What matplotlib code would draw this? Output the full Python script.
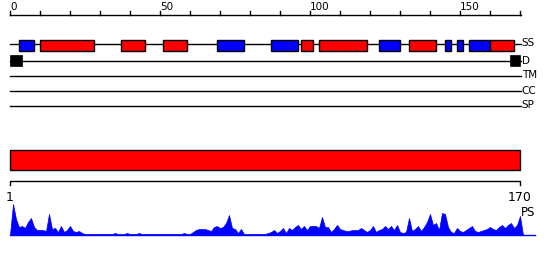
import matplotlib
matplotlib.use("Agg")
import matplotlib.pyplot as plt
from matplotlib.patches import Rectangle

# sequence length and secondary structure segments (residue start, end)
seq_len = 170
helix_segs = [(10, 28), (37, 45), (51, 59), (97, 101), (103, 119), (133, 142), (160, 168)]
strand_segs = [(3, 8), (69, 78), (87, 96), (123, 130), (145, 147), (149, 151), (153, 160)]
domain_marks = [(0, 4), (166.7, 170)]
track_names = ["SS", "D", "TM", "CC", "SP"]

# PS profile, one value per residue 0..170
ps_profile = [0, 31, 16, 8, 9, 7, 13, 17, 8, 5, 5, 5, 4, 21, 6, 7, 3, 9, 3, 5,
              9, 4, 3, 4, 2, 1, 1, 1, 1, 1, 1, 1, 1, 1, 1, 2, 1, 1, 1, 2,
              1, 1, 1, 2, 1, 1, 1, 1, 1, 1, 1, 1, 1, 1, 1, 1, 1, 1, 2, 1,
              1, 3, 5, 6, 6, 6, 5, 4, 8, 9, 7, 8, 12, 20, 7, 6, 2, 6, 1, 1,
              1, 1, 1, 1, 1, 1, 2, 3, 5, 2, 4, 7, 2, 7, 5, 8, 10, 6, 9, 5,
              9, 9, 9, 7, 18, 8, 8, 3, 6, 10, 6, 5, 4, 4, 5, 5, 5, 7, 5, 3,
              5, 9, 3, 5, 6, 9, 6, 9, 5, 10, 3, 2, 3, 17, 4, 6, 9, 4, 8, 13,
              21, 10, 12, 5, 22, 21, 8, 3, 2, 7, 4, 3, 5, 7, 9, 4, 3, 4, 5, 6,
              8, 6, 5, 8, 10, 7, 10, 12, 7, 10, 19]

fig = plt.figure(figsize=(5.5, 2.6), dpi=100)
ax = fig.add_axes([0, 0, 1, 1])
ax.set_xlim(-10 / 3, 180)
ax.set_ylim(260, 0)
ax.axis("off")

fs = 7.5
# top ruler
ax.plot([0, seq_len + 0.3], [15, 15], color="black", lw=1)
for t in range(0, seq_len + 1, 10):
    ax.plot([t, t], [15, 11], color="black", lw=1)
for t in [0, 50, 100, 150]:
    ax.text(t, 10, str(t), fontsize=fs, ha="left", va="baseline")

# feature tracks
track_y = [43.5, 60.5, 75.5, 90.5, 105.5]
for name, y in zip(track_names, track_y):
    ax.plot([0, seq_len + 0.3], [y, y], color="black", lw=1, zorder=1)
    ax.text(seq_len + 0.6, y, name, fontsize=fs, ha="left", va="center")

for s, e in strand_segs:
    ax.add_patch(Rectangle((s, 40), e - s, 11, facecolor="#0000ff", edgecolor="black", lw=1, zorder=2))
for s, e in helix_segs:
    ax.add_patch(Rectangle((s, 40), e - s, 11, facecolor="#ff0000", edgecolor="black", lw=1, zorder=2))
for s, e in domain_marks:
    ax.add_patch(Rectangle((s, 55), e - s, 10.5, facecolor="black", edgecolor="black", lw=0.5, zorder=2))

# full length bar
ax.add_patch(Rectangle((0, 150), seq_len, 20, facecolor="#ff0000", edgecolor="black", lw=1))

# bottom ruler
ax.plot([0, 0, seq_len, seq_len], [185, 180.5, 180.5, 185], color="black", lw=1)
ax.text(0, 201, "1", fontsize=9, ha="center", va="baseline")
ax.text(seq_len, 201, str(seq_len), fontsize=9, ha="center", va="baseline")
ax.text(seq_len + 0.4, 216, "PS", fontsize=8.5, ha="left", va="baseline")

# PS profile
base = 235
res = list(range(len(ps_profile)))
ax.fill_between(res + [seq_len + 1], [base - v for v in ps_profile] + [base], base,
                color="#0000ff", lw=0.5)
ax.plot([0, seq_len + 5], [base, base], color="#0000ff", lw=1)

fig.savefig("out.png", dpi=100)
